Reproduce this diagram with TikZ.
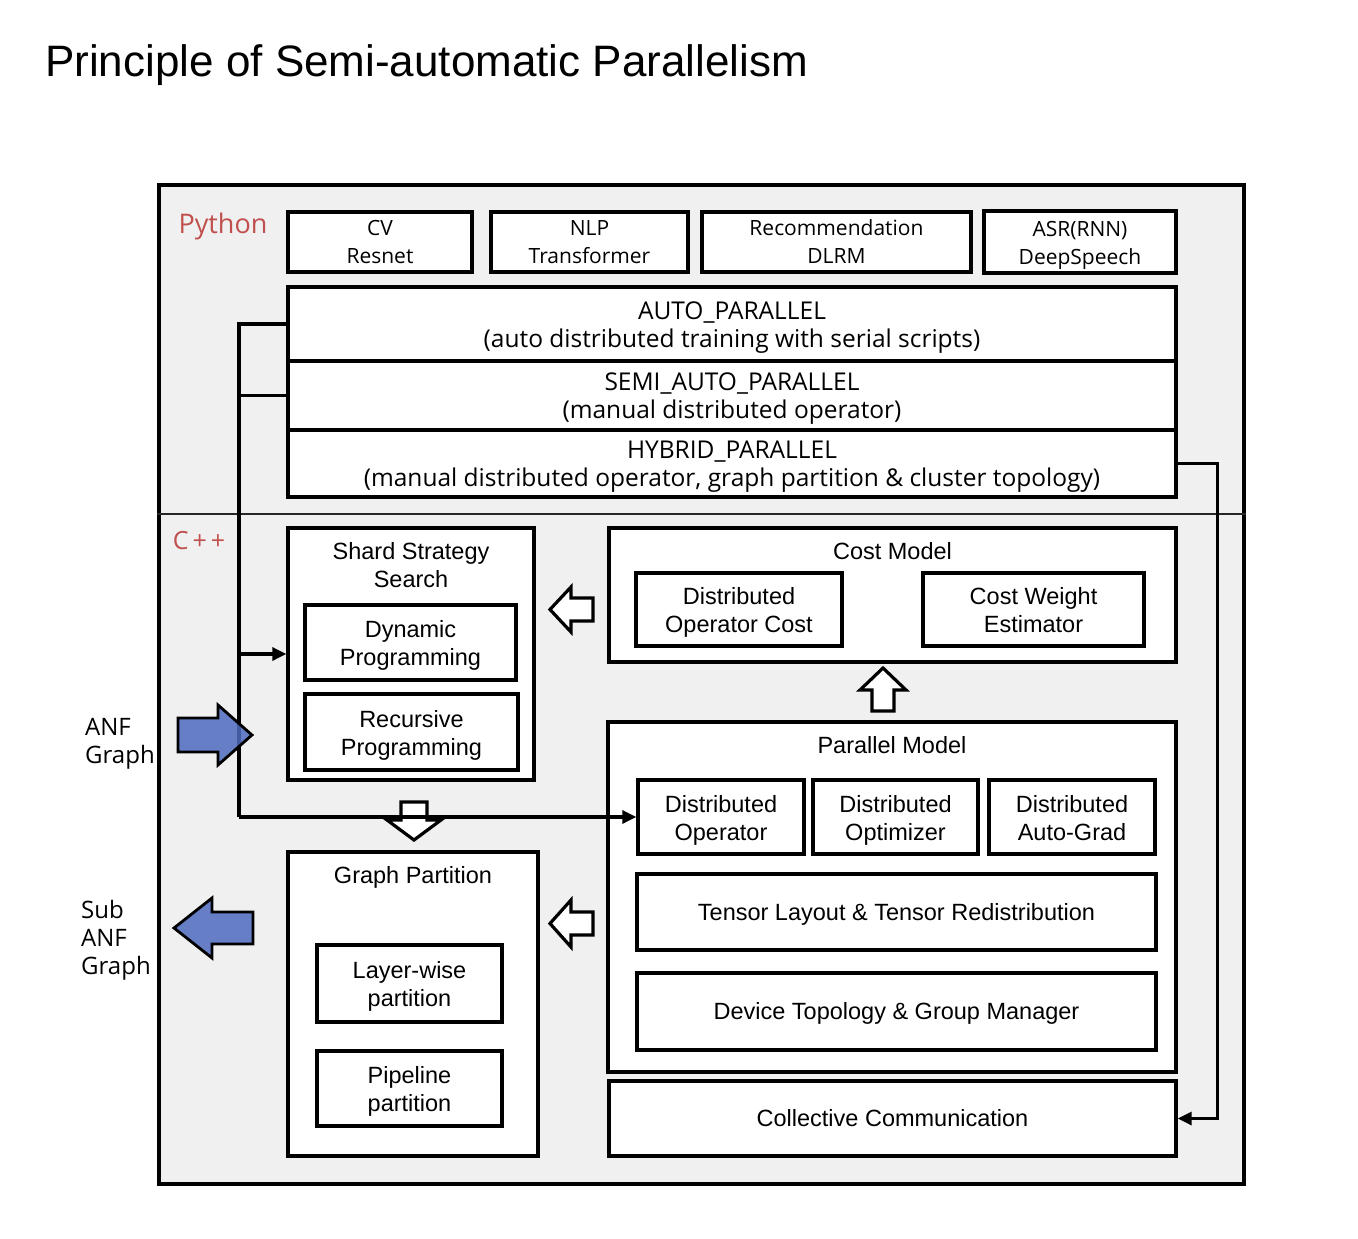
\documentclass[tikz,border=0pt]{standalone}
\usepackage{fontspec}
\setmainfont{Liberation Sans}
\newfontfamily\yhfont{Open Sans}
\usetikzlibrary{arrows.meta}
\definecolor{bgray}{HTML}{F0F0F0}
\definecolor{lblred}{HTML}{C0504D}
\definecolor{anfblue}{HTML}{4F6BBE}
\newcommand\myTop{\rule{0pt}{26.6pt}}
\begin{document}
\begin{tikzpicture}[x=1pt,y=-1pt,
  bx/.style={draw, line width=3.4pt, fill=white, inner sep=0pt, align=center, font=\fontsize{23.5}{28}\selectfont},
  onel/.style={bx, text height=20pt, text depth=4pt},
  ybx/.style={bx, font=\yhfont\fontsize{21}{28}\selectfont},
  mbx/.style={bx, font=\yhfont\fontsize{24.5}{28}\selectfont},
  ttl/.style={inner sep=0pt, align=center, font=\fontsize{23.5}{28}\selectfont},
  lbl/.style={inner sep=0pt, align=left, anchor=west, font=\yhfont\fontsize{24}{28}\selectfont},
  conn/.style={line width=3.2pt},
  arr/.style={line width=3.2pt, -{Triangle[length=14pt,width=13pt]}},
  hollow/.style={draw, line width=3.2pt, fill=white, line join=miter},
  bluearr/.style={draw, line width=2.8pt, fill=anfblue, fill opacity=0.85, line join=miter},
]
\useasboundingbox[fill=white] (0,0) rectangle (1358,1239);

% title
\node[inner sep=0pt, anchor=base west, font=\fontsize{44}{50}\selectfont] (title) at (45,77) {Principle of Semi-automatic Parallelism};

% outer frame
\node[draw, line width=3.4pt, fill=bgray, inner sep=0pt, minimum width=1085, minimum height=999] (frame) at (701.5,684.5) {};
\draw[line width=2.2pt, black!85] (frame.west |- 0,514) -- (frame.east |- 0,514);

% section labels
\node[inner sep=0pt, text=lblred, font=\yhfont\fontsize{27}{30}\selectfont] (py) at (223,226) {Python};
\node[inner sep=0pt, text=lblred, font=\yhfont\fontsize{25}{28}\selectfont] (cpp) at (199,541) {C\kern4pt+\kern4pt+};

% python boxes
\node[ybx, minimum width=184, minimum height=60] (cv)  at (380,242) {CV\\Resnet};
\node[ybx, minimum width=197, minimum height=60] (nlp) at (589.5,242) {NLP\\Transformer};
\node[ybx, minimum width=269, minimum height=60] (rec) at (836.5,242) {Recommendation\\DLRM};
\node[ybx, minimum width=192, minimum height=60] (asr) at (1080,242) {\rule{0pt}{25.6pt}ASR(RNN)\\\strut DeepSpeech};

\node[mbx, minimum width=888, minimum height=74] (auto)   at (732,324)   {\myTop AUTO\_PARALLEL\\\strut(auto distributed training with serial scripts)};
\node[mbx, minimum width=888, minimum height=69] (semi)   at (732,395.5) {\myTop SEMI\_AUTO\_PARALLEL\\\strut(manual distributed operator)};
\node[mbx, minimum width=888, minimum height=67] (hybrid) at (732,463.5) {\myTop HYBRID\_PARALLEL\\\strut(manual distributed operator, graph partition \& cluster topology)};

% shard strategy search
\node[bx, minimum width=246, minimum height=252] (shard) at (411,654) {};
\node[ttl] (shardt) at (411,565) {Shard Strategy\\Search};
\node[bx, minimum width=211, minimum height=75] (dyn) at (410.5,642.5) {\myTop Dynamic\\\strut Programming};
\node[bx, minimum width=213, minimum height=76] (recp) at (411.5,732) {\myTop Recursive\\\strut Programming};

% cost model
\node[bx, minimum width=567, minimum height=134] (cost) at (892.5,595) {};
\node[ttl] (costt) at (892.5,551) {Cost Model};
\node[bx, minimum width=206, minimum height=73] (doc) at (739,609.5) {\myTop Distributed\\\strut Operator Cost};
\node[bx, minimum width=221, minimum height=73] (cwe) at (1033.5,609.5) {\myTop Cost Weight\\\strut Estimator};

% parallel model
\node[bx, minimum width=568, minimum height=350] (par) at (892,897) {};
\node[ttl] (part) at (892,745) {Parallel Model};
\node[bx, minimum width=166, minimum height=74] (dop)  at (721,817)    {\myTop Distributed\\\strut Operator};
\node[bx, minimum width=165, minimum height=74] (dopt) at (895.5,817)  {\myTop Distributed\\\strut Optimizer};
\node[bx, minimum width=166, minimum height=74] (dag)  at (1072,817)   {\myTop Distributed\\\strut Auto-Grad};
\node[onel, minimum width=519, minimum height=76] (tl)   at (896.5,912)  {Tensor Layout \& Tensor Redistribution};
\node[onel, minimum width=519, minimum height=77] (dt)   at (896.5,1011.5) {Device Topology \& Group Manager};

% collective communication
\node[onel, minimum width=567, minimum height=75] (cc) at (892.5,1118.5) {Collective Communication};

% graph partition
\node[bx, minimum width=250, minimum height=304] (gp) at (413,1004) {};
\node[ttl] (gpt) at (413,877) {Graph Partition};
\node[bx, minimum width=185, minimum height=77] (lw) at (409.5,983.5) {\myTop Layer-wise\\\strut partition};
\node[bx, minimum width=185, minimum height=75] (pp) at (409.5,1088.5) {\myTop Pipeline\\\strut partition};

% hollow arrows
\draw[hollow] (593,598) -- (571,598) -- (571,587) -- (550,609.5) -- (571,632) -- (571,621) -- (593,621) -- cycle;
\draw[hollow] (593,912) -- (571,912) -- (571,900) -- (550,923.5) -- (571,947) -- (571,935) -- (593,935) -- cycle;
\draw[hollow] (872,711) -- (872,690) -- (860,690) -- (883,668) -- (906,690) -- (894,690) -- (894,711) -- cycle;
\draw[hollow] (401,802) -- (427,802) -- (427,820) -- (441,820) -- (414,840) -- (387,820) -- (401,820) -- cycle;

% connectors
\coordinate (bustop) at (239,324);
\coordinate (busbot) at (239,817);
\draw[conn] (auto.west) -- (bustop) -- (busbot);
\draw[conn] (semi.west) -- (semi.west -| bustop);
\draw[arr] (busbot) -- (dop.west);
\draw[arr] (shard.west -| bustop) -- (shard.west);
\draw[arr] (hybrid.east) -- ++(40,0) |- (cc.east);

% ANF arrows and labels
\draw[bluearr] (178,718) -- (218,718) -- (218,705) -- (252,735) -- (218,765) -- (218,752) -- (178,752) -- cycle;
\draw[bluearr] (253,912) -- (212,912) -- (212,898) -- (174,928) -- (212,958) -- (212,944) -- (253,944) -- cycle;
\node[lbl] (anf) at (85,744) {ANF\\Graph};
\node[lbl] (subanf) at (81,940) {Sub\\ANF\\Graph};
\end{tikzpicture}
\end{document}
